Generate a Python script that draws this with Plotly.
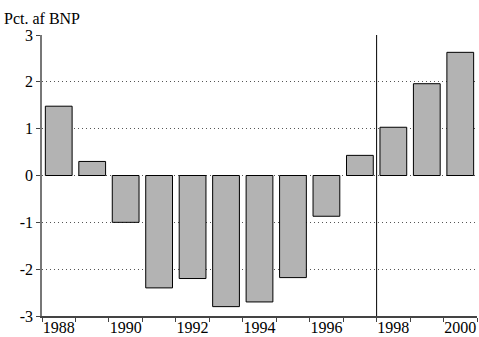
import plotly.graph_objects as go

years = list(range(1988, 2001))
values = [1.48, 0.30, -1.00, -2.40, -2.20, -2.80, -2.70, -2.18, -0.87, 0.43, 1.03, 1.96, 2.63]
x_tick_years = [1988, 1990, 1992, 1994, 1996, 1998, 2000]
y_ticks = [3, 2, 1, 0, -1, -2, -3]
y_tick_labels = ["3", "2", "1", "0", "-1", "-2", "-3"]
divider_year = 1997.5

font = "Liberation Serif"

fig = go.Figure(go.Bar(
    x=years, y=values, width=0.8,
    marker=dict(color="#b3b3b3", line=dict(color="black", width=1)),
))

fig.update_layout(
    width=479, height=337,
    margin=dict(l=42, r=2, t=35, b=21),
    paper_bgcolor="white", plot_bgcolor="white",
    showlegend=False,
    font=dict(family=font, size=16, color="black"),
)
fig.update_xaxes(
    range=[1987.5, 2000.5], automargin=False,
    tickvals=x_tick_years, ticktext=[str(y) for y in x_tick_years],
    ticks="", showgrid=False, zeroline=False, ticklabelstandoff=-4,
    showline=True, linecolor="#444", linewidth=1.5,
    minor=dict(tickvals=[y + 0.5 for y in range(1987, 2001)], ticks="outside",
               ticklen=4, tickcolor="#444", showgrid=False),
    tickfont=dict(family=font, size=16),
)
fig.update_yaxes(
    range=[-3, 3], automargin=False,
    tickvals=y_ticks, ticktext=y_tick_labels,
    ticks="outside", ticklen=4, tickcolor="#444",
    showgrid=True, gridcolor="#555", griddash="1px,3px", gridwidth=1,
    zeroline=False,
    showline=True, linecolor="#777", linewidth=1.5,
    tickfont=dict(family=font, size=16),
)
fig.add_shape(type="line", xref="x", yref="y", x0=divider_year, x1=divider_year,
              y0=-3, y1=3, line=dict(color="black", width=1))
fig.add_annotation(text="Pct. af BNP", xref="paper", yref="paper", x=0, y=1,
                   xshift=-40, yshift=6, xanchor="left", yanchor="bottom",
                   showarrow=False, font=dict(family=font, size=16))

fig.write_html("out.html", config={"displayModeBar": False},
               post_script="document.body.style.margin='0';")
